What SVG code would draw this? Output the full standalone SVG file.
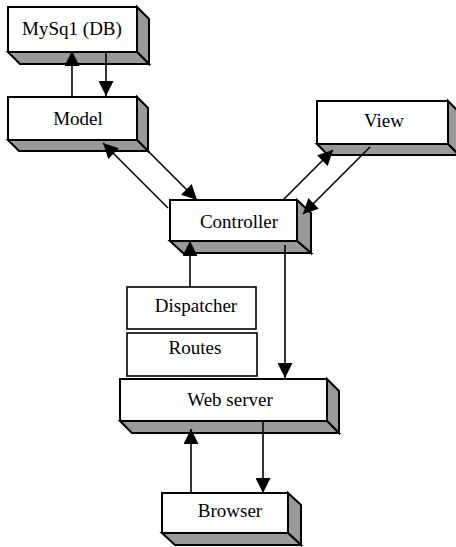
<svg xmlns="http://www.w3.org/2000/svg" width="456" height="547" viewBox="0 0 456 547">
  <style>
    .face { fill: #ffffff; stroke: #000; stroke-width: 2; }
    .side { fill: #999999; stroke: #000; stroke-width: 2; stroke-linejoin: miter; }
    .flat { fill: #ffffff; stroke: #000; stroke-width: 1.6; }
    .label { font-family: "Liberation Serif", "Times New Roman", serif; font-size: 19px; fill: #000; text-anchor: middle; }
    .link { stroke: #000; stroke-width: 1.6; fill: none; marker-end: url(#head); }
  </style>
  <defs>
    <marker id="head" markerUnits="userSpaceOnUse" markerWidth="15" markerHeight="15" viewBox="0 0 15 15" refX="15" refY="7.5" orient="auto">
      <path d="M0,0 L15,7.5 L0,15 Z" fill="#000"/>
    </marker>
  </defs>

  <rect width="456" height="547" fill="#ffffff"/>

  <!-- MySQL -->
  <g id="mysql">
    <polygon class="side" points="137,7 149,19 149,64 137,52"/>
    <polygon class="side" points="8,52 20,64 149,64 137,52"/>
    <rect class="face" x="8" y="7" width="129" height="45"/>
    <text class="label" x="72" y="35">MySq1 (DB)</text>
  </g>

  <!-- Model -->
  <g id="model">
    <polygon class="side" points="137,97 148,108 148,151 137,140"/>
    <polygon class="side" points="8,140 19,151 148,151 137,140"/>
    <rect class="face" x="8" y="97" width="129" height="43"/>
    <text class="label" x="78" y="125">Model</text>
  </g>

  <!-- View -->
  <g id="view">
    <polygon class="side" points="448,101 459,112 459,155 448,144"/>
    <polygon class="side" points="317,144 328,155 459,155 448,144"/>
    <rect class="face" x="317" y="101" width="131" height="43"/>
    <text class="label" x="384" y="127">View</text>
  </g>

  <!-- Controller -->
  <g id="controller">
    <polygon class="side" points="297,200 311,213 311,253 297,241"/>
    <polygon class="side" points="170,241 183,253 311,253 297,241"/>
    <rect class="face" x="170" y="200" width="127" height="41"/>
    <text class="label" x="239" y="228">Controller</text>
  </g>

  <!-- Dispatcher -->
  <g id="dispatcher">
    <rect class="flat" x="127" y="287" width="129" height="42"/>
    <text class="label" x="196" y="312">Dispatcher</text>
  </g>

  <!-- Routes -->
  <g id="routes">
    <rect class="flat" x="127" y="333" width="130" height="43"/>
    <text class="label" x="195" y="354">Routes</text>
  </g>

  <!-- Web server -->
  <g id="webserver">
    <polygon class="side" points="327,379 339,391 339,433 327,421"/>
    <polygon class="side" points="120,421 132,433 339,433 327,421"/>
    <rect class="face" x="120" y="379" width="207" height="42"/>
    <text class="label" x="230" y="406">Web server</text>
  </g>

  <!-- Browser -->
  <g id="browser">
    <polygon class="side" points="288,493 301,505 301,545 288,533"/>
    <polygon class="side" points="162,533 175,545 301,545 288,533"/>
    <rect class="face" x="162" y="493" width="126" height="40"/>
    <text class="label" x="230" y="517">Browser</text>
  </g>

  <!-- Connectors -->
  <g id="connectors">
    <line class="link" x1="72" y1="97" x2="72" y2="51"/>
    <line class="link" x1="106" y1="52" x2="106" y2="96"/>
    <line class="link" x1="148" y1="151" x2="197" y2="200"/>
    <line class="link" x1="168" y1="208" x2="103" y2="143"/>
    <line class="link" x1="283" y1="200" x2="333" y2="150"/>
    <line class="link" x1="370" y1="147" x2="303" y2="214"/>
    <line class="link" x1="190" y1="287" x2="190" y2="241"/>
    <line class="link" x1="285" y1="245" x2="285" y2="378"/>
    <line class="link" x1="191" y1="493" x2="191" y2="429"/>
    <line class="link" x1="263" y1="421" x2="263" y2="493"/>
  </g>
</svg>
